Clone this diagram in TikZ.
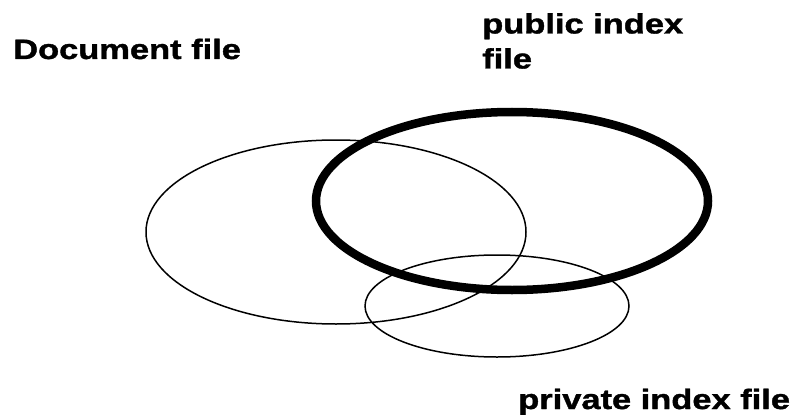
\documentclass[tikz,border=0pt]{standalone}
\usepackage{fontspec}
\setmainfont{Liberation Sans}
\newfontfamily\heavyfont{Liberation Sans}[UprightFont=*-Bold,FakeBold=1.2]
\begin{document}
\begin{tikzpicture}[x=1pt,y=-1pt,
  thinell/.style={draw=black,line width=1.5pt},
  thickell/.style={draw=black,line width=8.5pt},
  lbl/.style={font=\fontsize{28}{35}\selectfont\heavyfont,inner sep=0pt,anchor=base west,xscale=1.23,transform shape,align=left}]
\useasboundingbox (0,0) rectangle (794,417);
\draw[thinell] (336,232) ellipse [x radius=190, y radius=92];
\draw[thinell] (497,306) ellipse [x radius=132, y radius=51];
\draw[thickell] (512,201) ellipse [x radius=196, y radius=89];
\node[lbl] (doc) at (13,59) {Document file};
\node[lbl,anchor=north west] (pub) at (482,13) {public index\\file};
\node[lbl] (priv) at (518,409) {private index file};
\end{tikzpicture}
\end{document}
